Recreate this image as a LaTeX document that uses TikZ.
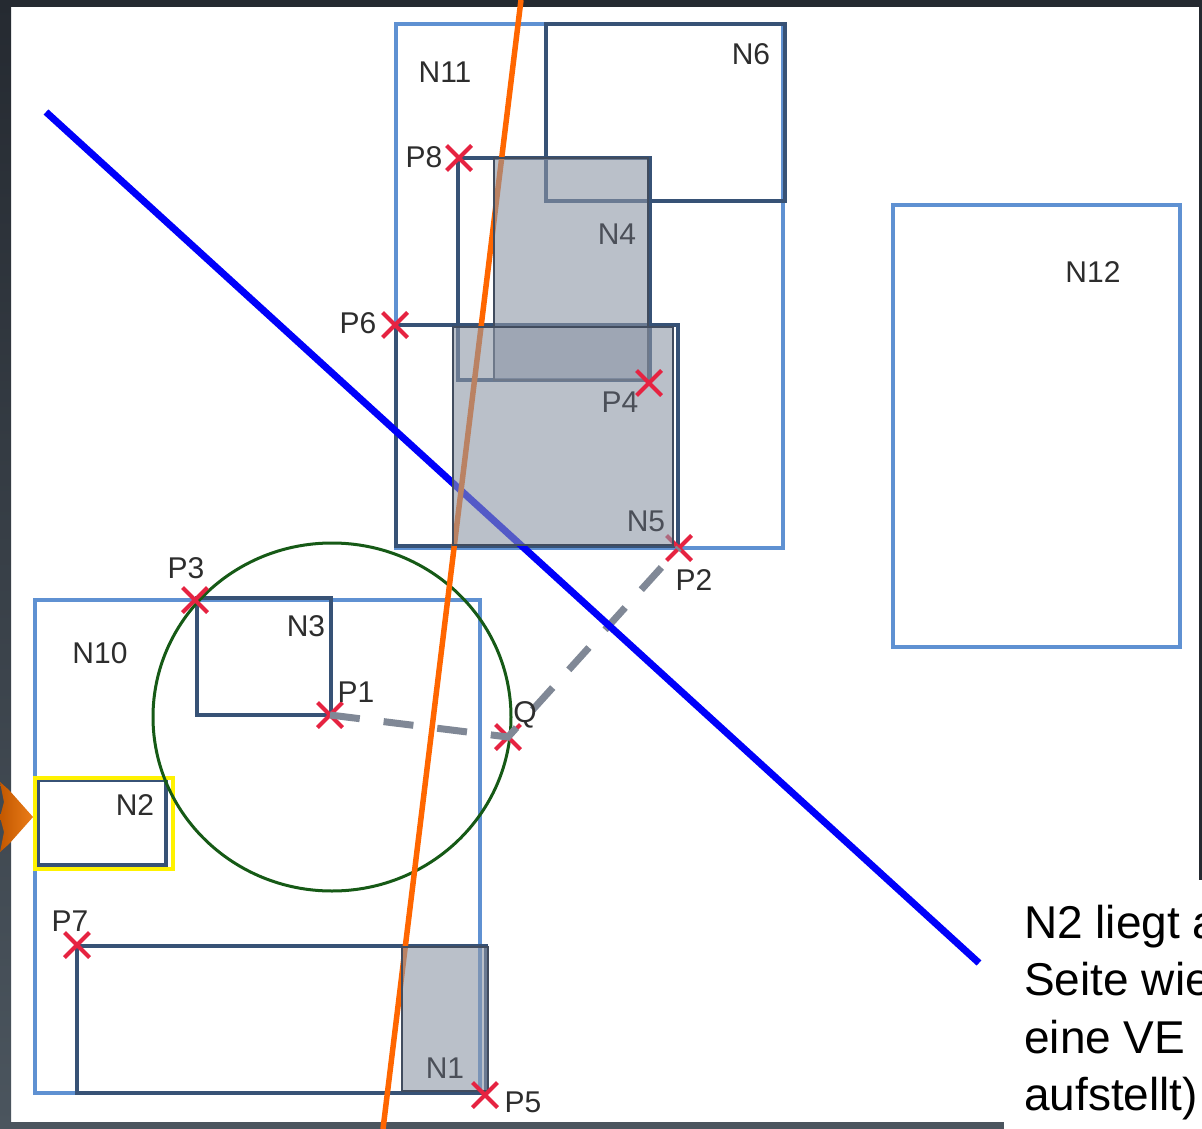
\documentclass[tikz,border=0pt]{standalone}
\usepackage{fontspec}
\setmainfont{Liberation Sans}
\usetikzlibrary{shapes.misc}
\definecolor{darkbg}{RGB}{37,42,49}
\definecolor{slatebg}{RGB}{75,85,94}
\definecolor{lightblue}{RGB}{95,145,210}
\definecolor{darkline}{RGB}{55,82,118}
\definecolor{grayfillc}{RGB}{140,150,166}
\definecolor{graylinec}{RGB}{65,76,94}
\definecolor{crossred}{RGB}{230,35,65}
\definecolor{circgreen}{RGB}{22,90,22}
\definecolor{dashgray}{RGB}{128,136,150}
\definecolor{lineblue}{RGB}{0,0,250}
\definecolor{lineorange}{RGB}{255,102,0}
\definecolor{labelgray}{RGB}{45,45,45}
\definecolor{labelgrayin}{RGB}{75,79,88}
\definecolor{arroworange}{RGB}{235,125,25}
\definecolor{arrowdark}{RGB}{195,88,0}
\begin{document}
\begin{tikzpicture}[x=1pt,y=-1pt,
  outerbox/.style={draw=lightblue,line width=4.5pt},
  innerbox/.style={draw=darkline,line width=3.2pt},
  grayfill/.style={fill=grayfillc,fill opacity=0.6},
  grayline/.style={draw=graylinec,line width=2.8pt},
  pmark/.style={cross out,draw=crossred,line width=4pt,minimum size=21pt,inner sep=0pt},
  lbl/.style={font=\fontsize{30}{32}\selectfont,text=labelgray,inner sep=0pt},
  lblin/.style={font=\fontsize{30}{32}\selectfont,text=labelgrayin,inner sep=0pt},
  notetext/.style={font=\fontsize{46}{57.5}\selectfont,text=black,inner sep=0pt,anchor=base west},
  dashline/.style={draw=dashgray,line width=7pt,dash pattern=on 30pt off 24pt},
  blueline/.style={draw=lineblue,line width=7pt},
  orangeline/.style={draw=lineorange,line width=5.5pt},
  greencirc/.style={draw=circgreen,line width=3pt}]
\useasboundingbox (0,0) rectangle (1202,1129);
% background and frame
\fill[white] (0,0) rectangle (1202,1129);
\fill[darkbg] (0,0) rectangle (1202,7);
\shade[top color=darkbg,bottom color=slatebg] (0,0) rectangle (11,1129);
\fill[slatebg] (0,1122) rectangle (1004,1129);
\fill[darkbg] (1199,0) rectangle (1202,880);

% outer (light blue) boxes
\draw[outerbox] (396,24) rectangle (783,548);   % N11
\draw[outerbox] (35,600) rectangle (480,1093);  % N10
\draw[outerbox] (893,205) rectangle (1180,647); % N12

% inner outlined boxes
\draw[innerbox] (546,24) rectangle (785,201);   % N6
\draw[innerbox] (458,158) rectangle (650,380);  % P8 box
\draw[innerbox] (396,325) rectangle (678,546);  % P6 box
\draw[innerbox] (197,598) rectangle (331,715);  % N3
\draw[innerbox] (38,780) rectangle (166,865);   % N2
\draw[innerbox] (77,946) rectangle (486,1093);  % P7 box
\draw[draw=yellow,line width=4pt] (35,778) rectangle (173,869);

% circle
\draw[greencirc] (332,717) ellipse [x radius=179pt, y radius=174pt];

% point markers
\node[pmark] (p1) at (330,715) {};
\node[pmark] (q)  at (508,737) {};
\node[pmark] (p2) at (679,548) {};

% dashed connector P1 - Q - P2
\draw[dashline] (p1.center) -- (q.center) -- (p2.center);

% separating lines
\coordinate (b1) at (46,112);
\coordinate (b2) at (979,963);
\draw[blueline] (b1) -- (b2);
\coordinate (o1) at (521,0);
\coordinate (o2) at (383,1129);
\draw[orangeline] (o1) -- (o2);

% gray (semi transparent) nodes
\fill[grayfill] (494,158) rectangle (648,380);  % N4
\draw[grayline] (494,158) rectangle (648,380);
\fill[grayfill] (453,327) rectangle (673,545);  % N5
\draw[grayline] (453,327) rectangle (673,545);
\fill[grayfill] (402,947) rectangle (488,1091); % N1
\draw[grayline] (402,947) rectangle (488,1091);

% other point markers
\node[pmark] (p8) at (459,158) {};
\node[pmark] (p6) at (395,325) {};
\node[pmark] (p4) at (649,383) {};
\node[pmark] (p3) at (195,600) {};
\node[pmark] (p7) at (77,945) {};
\node[pmark] (p5) at (485,1095) {};

% labels
\node[lbl] (lN11) at (445,72) {N11};
\node[lbl] (lN6) at (751,54) {N6};
\node[lblin] (lN4) at (617,234) {N4};
\node[lbl] (lN12) at (1093,272) {N12};
\node[lbl] (lP8) at (424,157) {P8};
\node[lbl] (lP6) at (358,323) {P6};
\node[lblin] (lP4) at (620,402) {P4};
\node[lblin] (lN5) at (646,521) {N5};
\node[lbl] (lP2) at (694,580) {P2};
\node[lbl] (lP3) at (186,568) {P3};
\node[lbl] (lN3) at (306,626) {N3};
\node[lbl] (lN10) at (100,653) {N10};
\node[lbl] (lP1) at (356,692) {P1};
\node[lbl] (lQ) at (525,715) {Q};
\node[lbl] (lN2) at (135,805) {N2};
\node[lbl] (lP7) at (70,921) {P7};
\node[lblin] (lN1) at (445,1068) {N1};
\node[lbl] (lP5) at (523,1102) {P5};

% orange arrow at the left edge
\shade[left color=arrowdark,right color=arroworange]
  (0,782) -- (9,790) -- (33,817) -- (9,844) -- (0,852) -- (4,832) -- (0,817) -- (4,802) -- cycle;

% note text (cut at the right edge, as in the original)
\begin{scope}
\clip (0,0) rectangle (1202,1129);
\node[notetext] (t1) at (1024,938) {N2 liegt a};
\node[notetext] (t2) at (1024,995.5) {Seite wie};
\node[notetext] (t3) at (1024,1053) {eine VE};
\node[notetext] (t4) at (1024,1110.5) {aufstellt)};
\end{scope}
\end{tikzpicture}
\end{document}
